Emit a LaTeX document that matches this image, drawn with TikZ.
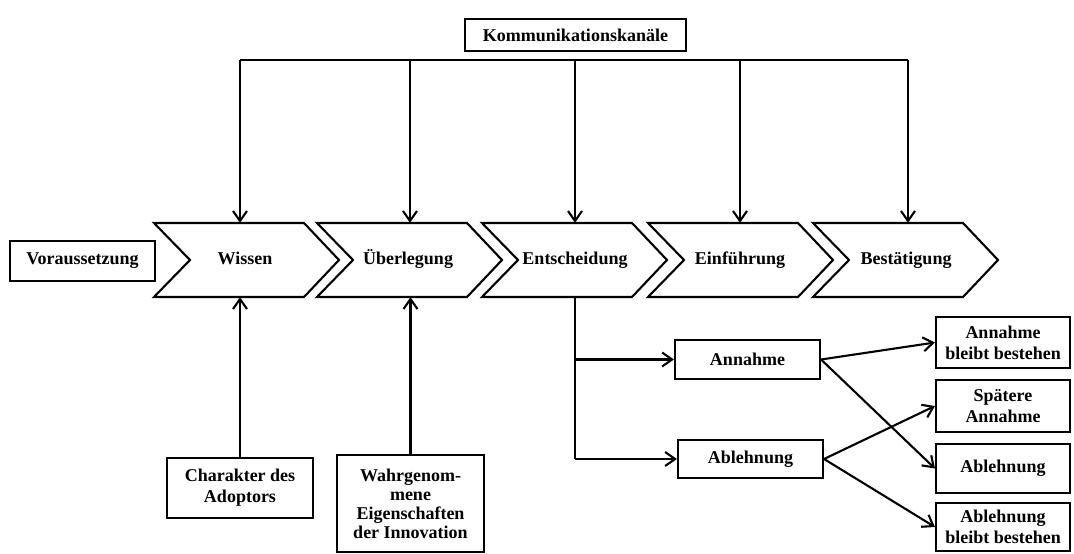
\documentclass[tikz,border=0pt]{standalone}
\usepackage{fontspec}
\setmainfont{Liberation Serif}
\usetikzlibrary{arrows.meta}
\begin{document}
\begin{tikzpicture}[x=1pt,y=-1pt,
  font=\bfseries\fontsize{18pt}{21pt}\selectfont,
  box/.style={draw,line width=2.1pt,align=center,inner sep=2pt},
  chev/.style={draw,line width=2.1pt,line join=miter},
  lbl/.style={minimum width=150pt,minimum height=74pt,inner sep=0pt,text height=12.5pt,text depth=4pt},
  conn/.style={line width=2.1pt},
  arr/.style={line width=2.1pt,-{Straight Barb[length=10pt,width=14pt,line width=2.1pt]}}]
\useasboundingbox (0,0) rectangle (1074,554);
% top
\node[box,line width=2.8pt,minimum width=221pt,minimum height=32pt] (komm) at (575.5,35) {Kommunikationskanäle};
% chevrons
\foreach \L in {154,317,482,648,813}{
  \draw[chev] (\L,223) -- (\L+150,223) -- (\L+185,260) -- (\L+150,297) -- (\L,297) -- (\L+36,260) -- cycle;}
\node[lbl] (wissen) at (245,260) {Wissen};
\node[lbl] (ueber) at (408,260) {Überlegung};
\node[lbl] (entsch) at (575,260) {Entscheidung};
\node[lbl] (einf) at (740,260) {Einführung};
\node[lbl] (best) at (906,260) {Bestätigung};
% channel line
\coordinate (k1) at (240,60);
\coordinate (k2) at (410,60);
\coordinate (k3) at (575,60);
\coordinate (k4) at (740,60);
\coordinate (k5) at (908,60);
\draw[conn,line width=2.8pt] (k1) -- (k5);
\draw[arr] (k1) -- (k1 |- wissen.north);
\draw[arr] (k2) -- (k2 |- ueber.north);
\draw[arr] (k3) -- (k3 |- entsch.north);
\draw[arr] (k4) -- (k4 |- einf.north);
\draw[arr] (k5) -- (k5 |- best.north);
% left
\node[box,minimum width=145pt,minimum height=40pt] (vor) at (82.5,261) {Voraussetzung};
% bottom
\node[box,minimum width=146pt,minimum height=60pt] (char) at (240,488) {Charakter des\\Adoptors};
\node[box,minimum width=147pt,minimum height=97pt,font=\bfseries\fontsize{18pt}{19pt}\selectfont] (wahr) at (410.5,503.5) {Wahrgenom-\\mene\\Eigenschaften\\der Innovation};
\draw[arr] (char.north) -- (char.north |- wissen.south);
\draw[arr] (wahr.north) -- (wahr.north |- ueber.south);
% decision branch
\node[box,minimum width=145pt,minimum height=39pt] (ann) at (747.5,359.5) {Annahme};
\node[box,minimum width=145pt,minimum height=38pt] (abl) at (750.5,459) {Ablehnung};
\coordinate (d1) at (575,359.5);
\coordinate (d2) at (575,459);
\draw[conn] (entsch.south) -- (d2);
\draw[arr] (d1) -- (ann.west);
\draw[arr] (d2) -- (abl.west);
% outcomes
\node[box,minimum width=134pt,minimum height=51pt] (o1) at (1003,342.5) {Annahme\\bleibt bestehen};
\node[box,minimum width=134pt,minimum height=52pt] (o2) at (1003,406) {Spätere\\Annahme};
\node[box,minimum width=134pt,minimum height=49pt] (o3) at (1003,468.5) {Ablehnung};
\node[box,minimum width=134pt,minimum height=48pt] (o4) at (1003,527) {Ablehnung\\bleibt bestehen};
\draw[arr] (ann.east) -- (o1.west);
\draw[arr] (ann.east) -- (o3.west);
\draw[arr] (abl.east) -- (o2.west);
\draw[arr] (abl.east) -- (o4.west);
\end{tikzpicture}
\end{document}
